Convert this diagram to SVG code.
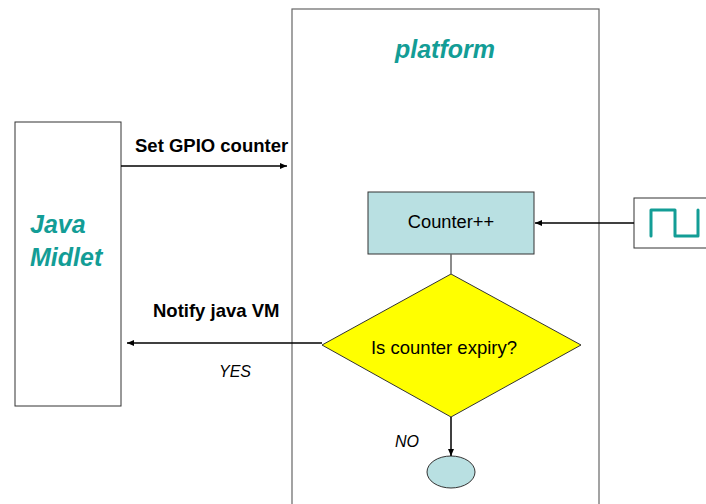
<svg xmlns="http://www.w3.org/2000/svg" width="706" height="504" viewBox="0 0 706 504">
<style>
text{font-family:"Liberation Sans",Arial,sans-serif}
.teal{fill:#139d96;font-weight:bold;font-style:italic;font-size:25px}
.lbl{font-weight:bold;font-size:18.5px;fill:#000}
.it{font-style:italic;font-size:16px;fill:#000}
.box{stroke:#333;stroke-width:1}
.conn{stroke:#000;stroke-width:1.5;fill:none}
</style>
<defs>
<marker id="ah" markerWidth="8" markerHeight="8" refX="7" refY="4" orient="auto" markerUnits="userSpaceOnUse">
<path d="M0,1 L7,4 L0,7 Z" fill="#000"/>
</marker>
</defs>
<rect width="706" height="504" fill="#fff"/>
<g id="platform">
<rect x="292" y="9" width="307" height="510" fill="#fff" stroke="#666" stroke-width="1.2"/>
<text class="teal" x="445" y="58" text-anchor="middle" font-size="25.5">platform</text>
</g>
<g id="midlet">
<rect x="15" y="122" width="106" height="284" fill="#fff" class="box"/>
<text class="teal" x="30" y="233">Java</text>
<text class="teal" x="30" y="266">Midlet</text>
</g>
<g id="counter">
<rect x="368" y="192" width="166" height="62" fill="#b9e0e2" class="box"/>
<text x="451" y="228" text-anchor="middle" font-size="18.3">Counter++</text>
</g>
<g id="signal">
<rect x="634" y="198" width="80" height="50" fill="#fff" class="box"/>
<polyline points="651,236 651,210 675,210 675,236 698,236 698,210" fill="none" stroke="#139d96" stroke-width="3" stroke-linecap="round" stroke-linejoin="round"/>
</g>
<g id="decision">
<polygon points="451,274 581,345 451,417 322,345" fill="#ffff00" stroke="#333" stroke-width="1"/>
<text x="444" y="354" text-anchor="middle" font-size="18.5">Is counter expiry?</text>
</g>
<g id="end">
<ellipse cx="451" cy="472" rx="24" ry="16" fill="#b9e0e2" stroke="#333" stroke-width="1"/>
</g>
<g id="connectors">
<line class="conn" x1="121" y1="166" x2="287" y2="166" marker-end="url(#ah)"/>
<line class="conn" x1="634" y1="223" x2="535" y2="223" marker-end="url(#ah)"/>
<line x1="451" y1="254" x2="451" y2="274" stroke="#666" stroke-width="1.5"/>
<line class="conn" x1="322" y1="343" x2="127" y2="343" marker-end="url(#ah)"/>
<line class="conn" x1="451" y1="417" x2="451" y2="456" marker-end="url(#ah)"/>
<text class="lbl" x="135" y="152">Set GPIO counter</text>
<text class="lbl" x="153" y="317">Notify java VM</text>
<text class="it" x="219" y="377">YES</text>
<text class="it" x="395" y="447">NO</text>
</g>
</svg>
